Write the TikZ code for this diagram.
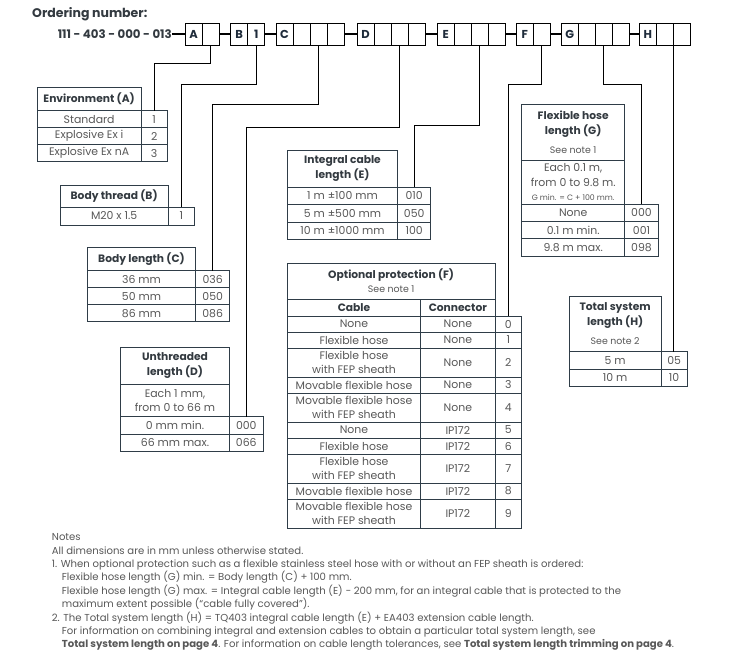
\documentclass[tikz,border=0pt]{standalone}
\usepackage{fontspec}
\setmainfont{Poppins}
\usetikzlibrary{positioning}
\definecolor{rulegray}{HTML}{2F3D48}
\definecolor{bodygray}{HTML}{585858}
\definecolor{headgray}{HTML}{333A40}
\definecolor{codeink}{HTML}{1E2B3A}

\begin{document}
\begin{tikzpicture}[x=1pt, y=-1pt,
  % Ordering code boxes and their lines
  codecell/.style={rectangle, draw=black, line width=0.8pt, minimum width=17, minimum height=22, inner sep=0pt, outer sep=0pt, font=\bfseries\fontsize{11.5}{13}\selectfont, text=codeink},
  link/.style={black, line width=1.8pt},
  leader/.style={black, line width=0.8pt},
  % Table cells (width, height)
  cell/.style 2 args={rectangle, draw=rulegray, line width=0.7pt, anchor=north west, minimum width=#1, minimum height=#2, inner sep=0pt, outer sep=0pt, align=center, font=\fontsize{10.9}{13.4}\selectfont, text=bodygray},
  headcell/.style 2 args={cell={#1}{#2}, font=\bfseries\fontsize{10.7}{15}\selectfont, text=headgray},
  notetext/.style={anchor=north west, inner sep=0pt, align=left, font=\fontsize{10.1}{13.4}\selectfont, text=bodygray}
]
\fill[white] (0,0) rectangle (737,664);
\useasboundingbox (0,0) rectangle (737,664);

% Layer 1: Ordering number
\node[anchor=west, inner sep=0pt, font=\bfseries\fontsize{12.5}{14}\selectfont, text=headgray] (ordtitle) at (32,14) {Ordering number:};
\node[anchor=east, inner sep=0pt, font=\bfseries\fontsize{11.8}{14}\selectfont, text=headgray] (ordno) at (172,34) {111 - 403 - 000 - 013};

\node[codecell] (a1) at (193.5,34) {A};
\node[codecell, right=0pt of a1] (a2) {};
\node[codecell] (b1) at (239.2,34) {B};
\node[codecell, right=0pt of b1] (b2) {1};
\node[codecell] (c1) at (284.5,34) {C};
\node[codecell, right=0pt of c1] (c2) {};
\node[codecell, right=0pt of c2] (c3) {};
\node[codecell, right=0pt of c3] (c4) {};
\node[codecell] (d1) at (365.5,34) {D};
\node[codecell, right=0pt of d1] (d2) {};
\node[codecell, right=0pt of d2] (d3) {};
\node[codecell, right=0pt of d3] (d4) {};
\node[codecell] (e1) at (445.8,34) {E};
\node[codecell, right=0pt of e1] (e2) {};
\node[codecell, right=0pt of e2] (e3) {};
\node[codecell, right=0pt of e3] (e4) {};
\node[codecell] (f1) at (524.8,34) {F};
\node[codecell, right=0pt of f1] (f2) {};
\node[codecell] (g1) at (569.8,34) {G};
\node[codecell, right=0pt of g1] (g2) {};
\node[codecell, right=0pt of g2] (g3) {};
\node[codecell, right=0pt of g3] (g4) {};
\node[codecell] (h1) at (647.8,34) {H};
\node[codecell, right=0pt of h1] (h2) {};
\node[codecell, right=0pt of h2] (h3) {};

\draw[link] (ordno.east) -- (a1.west);
\draw[link] (a2.east) -- (b1.west);
\draw[link] (b2.east) -- (c1.west);
\draw[link] (c4.east) -- (d1.west);
\draw[link] (d4.east) -- (e1.west);
\draw[link] (e4.east) -- (f1.west);
\draw[link] (f2.east) -- (g1.west);
\draw[link] (g4.east) -- (h1.west);

% Layer 2: Environment (A)
\node[headcell={103.7}{23}] (envhead) at (37.3,87.7) {Environment (A)};
\node[cell={103.7}{17}] (envstd) at (37.3,110.7) {Standard};
\node[cell={26.3}{17}] (envstdv) at (141,110.7) {1};
\node[cell={103.7}{17}] (envexi) at (37.3,127.7) {Explosive Ex i};
\node[cell={26.3}{17}] (envexiv) at (141,127.7) {2};
\node[cell={103.7}{17}] (envexn) at (37.3,144.7) {Explosive Ex nA};
\node[cell={26.3}{17}] (envexnv) at (141,144.7) {3};

% Body thread (B)
\node[headcell={108.3}{22}] (thrhead) at (60,185) {Body thread (B)};
\node[cell={108.3}{18}] (thrm20) at (60,207) {M20 x 1.5};
\node[cell={26}{18}] (thrv) at (168.3,207) {1};

% Body length (C)
\node[headcell={108.4}{23.4}] (lenhead) at (87.3,247.3) {Body length (C)};
\node[cell={108.4}{17}] (len36) at (87.3,270.7) {36 mm};
\node[cell={34}{17}] (len36v) at (195.7,270.7) {036};
\node[cell={108.4}{17}] (len50) at (87.3,287.7) {50 mm};
\node[cell={34}{17}] (len50v) at (195.7,287.7) {050};
\node[cell={108.4}{17}] (len86) at (87.3,304.7) {86 mm};
\node[cell={34}{17}] (len86v) at (195.7,304.7) {086};

% Unthreaded length (D)
\node[headcell={108.6}{37}] (unthead) at (120.7,347.3) {Unthreaded\\length (D)};
\node[cell={108.6}{32.4}] (untdesc) at (120.7,384.3) {Each 1 mm,\\from 0 to 66 m};
\node[cell={108.6}{17.5}] (unt0) at (120.7,416.7) {0 mm min.};
\node[cell={34}{17.5}] (unt0v) at (229.3,416.7) {000};
\node[cell={108.6}{17.5}] (unt66) at (120.7,434.2) {66 mm max.};
\node[cell={34}{17.5}] (unt66v) at (229.3,434.2) {066};

% Integral cable length (E)
\node[headcell={110.4}{37.3}] (cabhead) at (287.3,150) {Integral cable\\length (E)};
\node[cell={110.4}{17.3}] (cab1) at (287.3,187.3) {1 m ±100 mm};
\node[cell={33}{17.3}] (cab1v) at (397.7,187.3) {010};
\node[cell={110.4}{17.3}] (cab5) at (287.3,204.6) {5 m ±500 mm};
\node[cell={33}{17.3}] (cab5v) at (397.7,204.6) {050};
\node[cell={110.4}{17.3}] (cab10) at (287.3,221.9) {10 m ±1000 mm};
\node[cell={33}{17.3}] (cab10v) at (397.7,221.9) {100};

% Flexible hose length (G)
\node[headcell={103}{55.7}] (hosehead) at (521.7,104.3) {Flexible hose\\length (G)\\[4pt]{\mdseries\color{bodygray}\fontsize{9.4}{10}\selectfont See note 1}};
\node[cell={103}{44.3}, font=\fontsize{10.9}{14.4}\selectfont] (hosedesc) at (521.7,160) {Each 0.1 m,\\from 0 to 9.8 m.\\{\fontsize{7.8}{9}\selectfont G min. = C + 100 mm.}};
\node[cell={103}{17.2}] (hose0) at (521.7,204.3) {None};
\node[cell={33.6}{17.2}] (hose0v) at (624.7,204.3) {000};
\node[cell={103}{17.2}] (hose1) at (521.7,221.5) {0.1 m min.};
\node[cell={33.6}{17.2}] (hose1v) at (624.7,221.5) {001};
\node[cell={103}{17.2}] (hose98) at (521.7,238.7) {9.8 m max.};
\node[cell={33.6}{17.2}] (hose98v) at (624.7,238.7) {098};

% Optional protection (F)
\node[headcell={207.7}{35.7}, font=\bfseries\fontsize{10.7}{14}\selectfont] (prothead) at (287.3,263.3) {Optional protection (F)\\{\mdseries\color{bodygray}\fontsize{9.4}{10}\selectfont See note 1}};
\node[headcell={133.4}{17}] (protcable) at (287.3,299) {Cable};
\node[headcell={74.3}{17}] (protconn) at (420.7,299) {Connector};
\node[cell={133.4}{16}] (p0c) at (287.3,316) {None};
\node[cell={74.3}{16}] (p0k) at (420.7,316) {None};
\node[cell={26.7}{16}] (p0v) at (495,316) {0};
\node[cell={133.4}{16}] (p1c) at (287.3,332) {Flexible hose};
\node[cell={74.3}{16}] (p1k) at (420.7,332) {None};
\node[cell={26.7}{16}] (p1v) at (495,332) {1};
\node[cell={133.4}{29}] (p2c) at (287.3,348) {Flexible hose\\with FEP sheath};
\node[cell={74.3}{29}] (p2k) at (420.7,348) {None};
\node[cell={26.7}{29}] (p2v) at (495,348) {2};
\node[cell={133.4}{16}] (p3c) at (287.3,377) {Movable flexible hose};
\node[cell={74.3}{16}] (p3k) at (420.7,377) {None};
\node[cell={26.7}{16}] (p3v) at (495,377) {3};
\node[cell={133.4}{29}] (p4c) at (287.3,393) {Movable flexible hose\\with FEP sheath};
\node[cell={74.3}{29}] (p4k) at (420.7,393) {None};
\node[cell={26.7}{29}] (p4v) at (495,393) {4};
\node[cell={133.4}{16}] (p5c) at (287.3,422) {None};
\node[cell={74.3}{16}] (p5k) at (420.7,422) {IP172};
\node[cell={26.7}{16}] (p5v) at (495,422) {5};
\node[cell={133.4}{16}] (p6c) at (287.3,438) {Flexible hose};
\node[cell={74.3}{16}] (p6k) at (420.7,438) {IP172};
\node[cell={26.7}{16}] (p6v) at (495,438) {6};
\node[cell={133.4}{29}] (p7c) at (287.3,454) {Flexible hose\\with FEP sheath};
\node[cell={74.3}{29}] (p7k) at (420.7,454) {IP172};
\node[cell={26.7}{29}] (p7v) at (495,454) {7};
\node[cell={133.4}{16}] (p8c) at (287.3,483) {Movable flexible hose};
\node[cell={74.3}{16}] (p8k) at (420.7,483) {IP172};
\node[cell={26.7}{16}] (p8v) at (495,483) {8};
\node[cell={133.4}{29}] (p9c) at (287.3,499) {Movable flexible hose\\with FEP sheath};
\node[cell={74.3}{29}] (p9k) at (420.7,499) {IP172};
\node[cell={26.7}{29}] (p9v) at (495,499) {9};

% Total system length (H)
\node[headcell={91.7}{55.7}] (tothead) at (569.3,296) {Total system\\length (H)\\[4pt]{\mdseries\color{bodygray}\fontsize{9.4}{10}\selectfont See note 2}};
\node[cell={91.7}{17.2}] (tot5) at (569.3,351.7) {5 m};
\node[cell={26.3}{17.2}] (tot5v) at (661,351.7) {05};
\node[cell={91.7}{17.2}] (tot10) at (569.3,368.9) {10 m};
\node[cell={26.3}{17.2}] (tot10v) at (661,368.9) {10};

% Layer 3: Leader lines from code boxes to the tables
\draw[leader] (a2.south) -- ++(0,18) -| (envstdv.north);
\draw[leader] (b2.south) -- ++(0,39) -| (thrv.north);
\draw[leader] (c3.south) -- ++(0,59) -| (len36v.north);
\draw[leader] (d3.south) -- ++(0,82) -| (unt0v.north);
\draw[leader] (e3.south) -- ++(0,80) -| (cab1v.north);
\draw[leader] (f2.south) -- ++(0,39) -| (p0v.north);
\draw[leader] (g3.south) -- ++(0,39) -| (hose0v.north);
\draw[leader] (h2.south east) -- (h2.south east |- tot5v.north);

% Layer 4: Notes
\node[notetext] (notes) at (51.7,533.5) {Notes\\
All dimensions are in mm unless otherwise stated.\\
1. When optional protection such as a flexible stainless steel hose with or without an FEP sheath is ordered:\\
\hspace*{10pt}Flexible hose length (G) min. = Body length (C) + 100 mm.\\
\hspace*{10pt}Flexible hose length (G) max. = Integral cable length (E) − 200 mm, for an integral cable that is protected to the\\
\hspace*{10pt}maximum extent possible (“cable fully covered”).\\
2. The Total system length (H) = TQ403 integral cable length (E) + EA403 extension cable length.\\
\hspace*{10pt}For information on combining integral and extension cables to obtain a particular total system length, see\\
\hspace*{10pt}\textbf{Total system length on page 4}. For information on cable length tolerances, see \textbf{Total system length trimming on page 4}.};

\end{tikzpicture}
\end{document}
